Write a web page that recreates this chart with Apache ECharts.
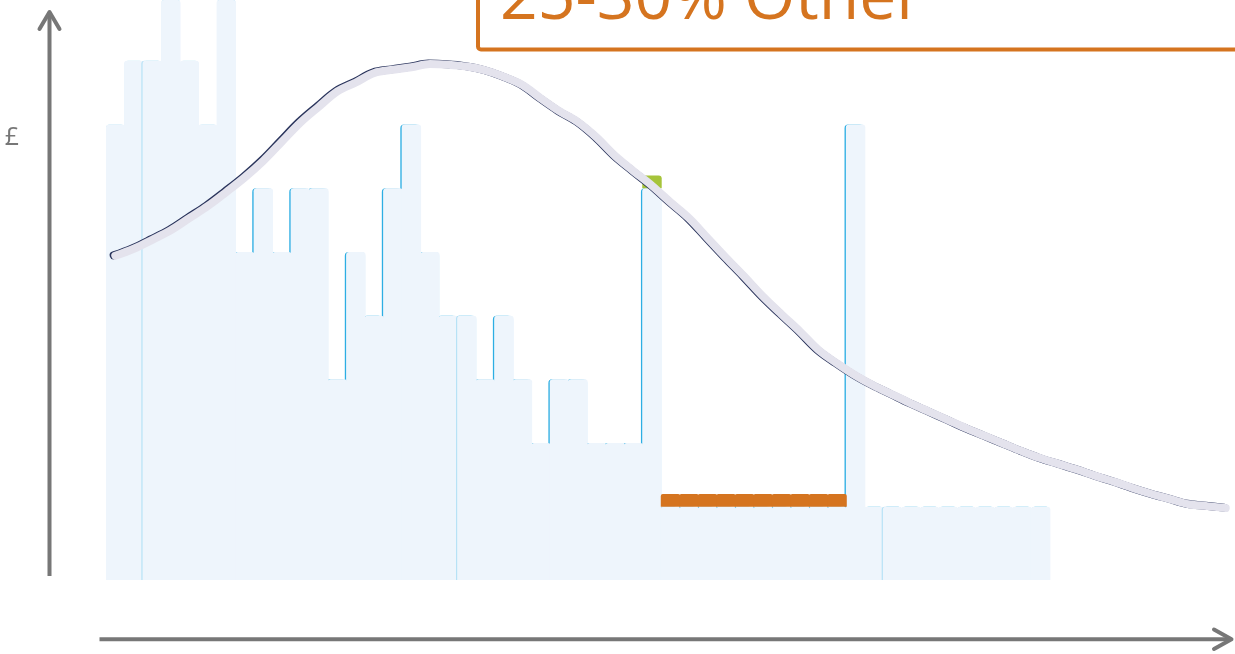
<!DOCTYPE html>
<html>
<head>
<meta charset="utf-8">
<script src="https://cdn.jsdelivr.net/npm/echarts@6/dist/echarts.min.js"></script>
<style>
  html, body { margin: 0; padding: 0; background: #ffffff; }
  #chart { width: 1235px; height: 654px; }
</style>
</head>
<body>
<div id="chart"></div>
<script>
// Cost per bin (£, arbitrary units); bins 4 and 7 run off the top of the plot
const barValues = [
  7.15, 8.15, 8.15, 9.15, 8.15, 7.15, 9.15, 5.15, 6.15, 5.15,
  6.15, 6.15, 3.15, 5.15, 4.15, 6.15, 7.15, 5.15, 4.15, 4.15,
  3.15, 4.15, 3.15, 2.15, 3.15, 3.15, 2.15, 2.15, 2.15, 6.15,
  1.15, 1.15, 1.15, 1.15, 1.15, 1.15, 1.15, 1.15, 1.15, 1.15,
  7.15, 1.15, 1.15, 1.15, 1.15, 1.15, 1.15, 1.15, 1.15, 1.15,
  1.15
];

// Highlighted top-ups stacked on the bins
const greenTop = [
  '-', '-', '-', '-', '-', '-', '-', '-', '-', '-',
  '-', '-', '-', '-', '-', '-', '-', '-', '-', '-',
  '-', '-', '-', '-', '-', '-', '-', '-', '-', 0.2,
  '-', '-', '-', '-', '-', '-', '-', '-', '-', '-',
  '-', '-', '-', '-', '-', '-', '-', '-', '-', '-',
  '-'
];
const orangeTop = [
  '-', '-', '-', '-', '-', '-', '-', '-', '-', '-',
  '-', '-', '-', '-', '-', '-', '-', '-', '-', '-',
  '-', '-', '-', '-', '-', '-', '-', '-', '-', '-',
  0.2, 0.2, 0.2, 0.2, 0.2, 0.2, 0.2, 0.2, 0.2, 0.2,
  '-', '-', '-', '-', '-', '-', '-', '-', '-', '-',
  '-'
];

// Distribution curve, one value per bin across the full axis
const curveValues = [
  5.09, 5.20, 5.34, 5.49, 5.68, 5.87, 6.09, 6.32, 6.58, 6.88,
  7.18, 7.43, 7.67, 7.81, 7.96, 8.01, 8.05, 8.10, 8.09, 8.06,
  8.00, 7.90, 7.77, 7.56, 7.36, 7.19, 6.95, 6.66, 6.42, 6.19,
  5.93, 5.68, 5.37, 5.06, 4.76, 4.45, 4.17, 3.90, 3.61, 3.40,
  3.21, 3.05, 2.91, 2.77, 2.64, 2.51, 2.38, 2.26, 2.14, 2.02,
  1.91, 1.82, 1.73, 1.63, 1.54, 1.44, 1.35, 1.27, 1.19, 1.16,
  1.13
];

const categories = curveValues.map((_, i) => 'Bin ' + (i + 1));
const boxLabel = '25-30% Other';
const axisLabel = '£';

// Palette
const FILL = '#EEF5FC';
const EDGE_LIGHT = '#B7E2F6';
const EDGE_STRONG = '#2DAEE3';
const GREEN = '#A6C43A';
const ORANGE = '#D5741F';
const AXIS = '#777777';
const CURVE = '#E4E3ED';
const CURVE_DARK = '#2A345C';

// Bins whose left edge carries the strong cyan rule, and bins that start a new group
const strongLeftFrom = 7, strongLeftTo = 40, strongTopFrom = 41;
const dividers = [2, 19, 42];

// Outline layer: drawn under the fills so only the outer edge of the step shape shows
const outlineData = barValues.map((v, i) => {
  const ring = i >= strongTopFrom ? EDGE_STRONG : EDGE_LIGHT;
  const strongLeft = i >= strongLeftFrom && i <= strongLeftTo;
  return {
    value: v,
    itemStyle: {
      color: ring,
      borderColor: ring,
      shadowColor: strongLeft ? EDGE_STRONG : 'rgba(0,0,0,0)'
    }
  };
});

// Fill layer: a thin rule marks the start of each group
const fillData = barValues.map((v, i) => ({
  value: v,
  itemStyle: dividers.indexOf(i) >= 0
    ? { shadowColor: EDGE_LIGHT, shadowOffsetX: -1.2, shadowBlur: 0 }
    : {}
}));

const chart = echarts.init(document.getElementById('chart'), null, { renderer: 'canvas' });

chart.setOption({
  animation: false,
  backgroundColor: '#ffffff',
  grid: { left: 106, top: 0, width: 1131.5, height: 580 },
  xAxis: [
    { type: 'category', data: categories, show: false },
    { type: 'category', data: categories, show: false }
  ],
  yAxis: { type: 'value', min: 0, max: 9.105, show: false, splitLine: { show: false } },
  series: [
    {
      name: 'outline',
      type: 'bar',
      xAxisIndex: 0,
      barWidth: '100%',
      z: 1,
      data: outlineData,
      itemStyle: {
        borderWidth: 1.5,
        borderRadius: [3, 3, 0, 0],
        shadowBlur: 0,
        shadowOffsetX: -1.8,
        shadowOffsetY: 0
      },
      emphasis: { disabled: true }
    },
    {
      name: 'fill',
      type: 'bar',
      xAxisIndex: 1,
      stack: 'bins',
      barWidth: '105%',
      z: 2,
      data: fillData,
      itemStyle: { color: FILL, borderRadius: [3, 3, 0, 0] },
      emphasis: { disabled: true }
    },
    {
      name: 'green',
      type: 'bar',
      xAxisIndex: 1,
      stack: 'bins',
      barWidth: '105%',
      z: 3,
      data: greenTop,
      itemStyle: { color: GREEN, borderRadius: [3, 3, 0, 0] },
      emphasis: { disabled: true }
    },
    {
      name: 'orange',
      type: 'bar',
      xAxisIndex: 1,
      stack: 'bins',
      barWidth: '105%',
      z: 3,
      data: orangeTop,
      itemStyle: { color: ORANGE, borderRadius: [2, 2, 0, 0] },
      emphasis: { disabled: true }
    },
    {
      name: 'curve',
      type: 'line',
      xAxisIndex: 0,
      data: curveValues,
      smooth: 0.35,
      symbol: 'none',
      z: 5,
      clip: false,
      lineStyle: {
        color: CURVE,
        width: 8,
        cap: 'round',
        join: 'round',
        shadowColor: CURVE_DARK,
        shadowBlur: 0,
        shadowOffsetX: -1.6,
        shadowOffsetY: -0.4
      },
      emphasis: { disabled: true }
    }
  ],
  graphic: [
    // vertical axis arrow
    {
      type: 'line', z: 10,
      shape: { x1: 49.5, y1: 576, x2: 49.5, y2: 12 },
      style: { stroke: AXIS, lineWidth: 4, lineCap: 'butt' }
    },
    {
      type: 'polyline', z: 10,
      shape: { points: [[39.5, 29], [49.5, 12], [59.5, 29]] },
      style: { stroke: AXIS, lineWidth: 4, lineCap: 'round', lineJoin: 'round', fill: null }
    },
    // horizontal axis arrow
    {
      type: 'line', z: 10,
      shape: { x1: 99.5, y1: 639.3, x2: 1230, y2: 639.3 },
      style: { stroke: AXIS, lineWidth: 4, lineCap: 'butt' }
    },
    {
      type: 'polyline', z: 10,
      shape: { points: [[1214, 629.5], [1231.5, 639.3], [1214, 649]] },
      style: { stroke: AXIS, lineWidth: 4, lineCap: 'round', lineJoin: 'round', fill: null }
    },
    // currency label on the vertical axis
    {
      type: 'text', z: 10,
      x: 12, y: 138,
      style: {
        text: axisLabel,
        font: '25px "Open Sans"',
        fill: AXIS,
        align: 'center', verticalAlign: 'middle',
        textAlign: 'center', textVerticalAlign: 'middle'
      }
    },
    // callout box
    {
      type: 'rect', z: 20,
      shape: { x: 478, y: -20, width: 820, height: 69.5, r: 3 },
      style: { stroke: ORANGE, lineWidth: 4, fill: null }
    },
    {
      type: 'text', z: 21,
      x: 500, y: 0.5,
      style: {
        text: boxLabel,
        font: '66px "Open Sans"',
        fill: ORANGE,
        align: 'left', verticalAlign: 'middle',
        textAlign: 'left', textVerticalAlign: 'middle'
      }
    }
  ]
});
</script>
</body>
</html>
